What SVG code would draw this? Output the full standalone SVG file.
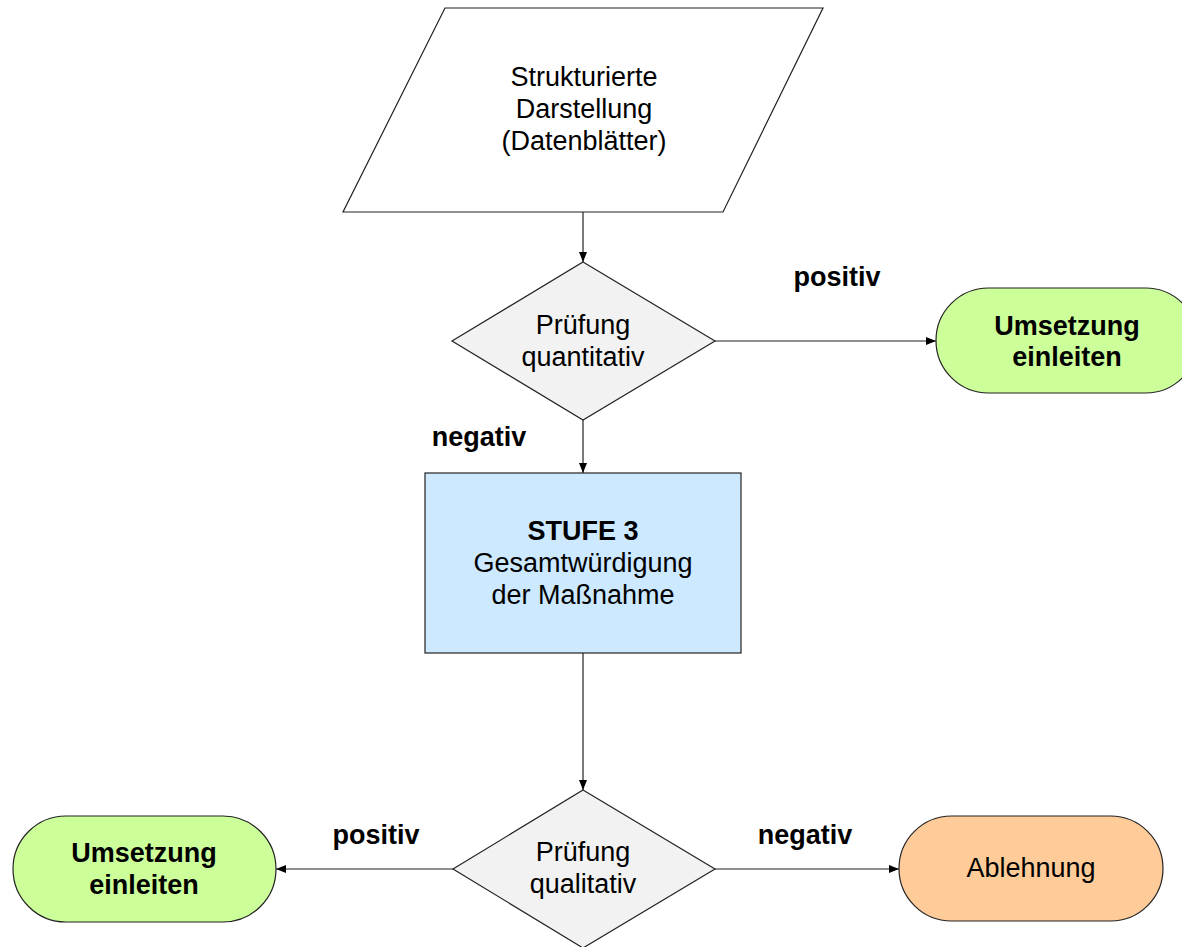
<svg xmlns="http://www.w3.org/2000/svg" width="1182" height="947" viewBox="0 0 1182 947">
<defs>
<style>
.shape{stroke:#222;stroke-width:1.2}
.t{font-family:"Liberation Sans",Arial,sans-serif;font-size:27px;fill:#000;text-anchor:middle}
.b{font-weight:bold}
.conn{stroke:#222;stroke-width:1.2;fill:none;marker-end:url(#ah)}
</style>
<marker id="ah" viewBox="0 0 10 10" refX="10" refY="5" markerWidth="10" markerHeight="10" markerUnits="userSpaceOnUse" orient="auto">
<path d="M0,1 L10,5 L0,9 Z" fill="#000"/>
</marker>
</defs>
<rect width="1182" height="947" fill="#fff"/>
<g id="connectors">
<line class="conn" x1="583" y1="212" x2="583" y2="262"/>
<line class="conn" x1="715" y1="341" x2="936" y2="341"/>
<line class="conn" x1="583" y1="420" x2="583" y2="473"/>
<line class="conn" x1="583" y1="653" x2="583" y2="790"/>
<line class="conn" x1="453" y1="869" x2="276" y2="869"/>
<line class="conn" x1="715" y1="869" x2="899" y2="869"/>
<text class="t b" x="837" y="286">positiv</text>
<text class="t b" x="479" y="446">negativ</text>
<text class="t b" x="376" y="844">positiv</text>
<text class="t b" x="805" y="844">negativ</text>
</g>
<g id="data">
<polygon class="shape" points="445,8 823,8 723,212 343,212" fill="#fff"/>
<text class="t" x="584" y="86">Strukturierte</text>
<text class="t" x="584" y="118">Darstellung</text>
<text class="t" x="584" y="150">(Datenblätter)</text>
</g>
<g id="check1">
<polygon class="shape" points="583,262 715,341 583,420 452,341" fill="#f2f2f2"/>
<text class="t" x="583" y="334">Prüfung</text>
<text class="t" x="583" y="366">quantitativ</text>
</g>
<g id="impl1">
<rect class="shape" x="936" y="288" width="262" height="105" rx="52.5" fill="#ccff99"/>
<text class="t b" x="1067" y="335">Umsetzung</text>
<text class="t b" x="1067" y="366">einleiten</text>
</g>
<g id="stufe3">
<rect class="shape" x="425" y="473" width="316" height="180" fill="#cce9ff"/>
<text class="t b" x="583" y="540">STUFE 3</text>
<text class="t" x="583" y="572">Gesamtwürdigung</text>
<text class="t" x="583" y="604">der Maßnahme</text>
</g>
<g id="check2">
<polygon class="shape" points="583,790 715,869 583,948 453,869" fill="#f2f2f2"/>
<text class="t" x="583" y="861">Prüfung</text>
<text class="t" x="583" y="893">qualitativ</text>
</g>
<g id="impl2">
<rect class="shape" x="13" y="816" width="263" height="106" rx="53" fill="#ccff99"/>
<text class="t b" x="144" y="862">Umsetzung</text>
<text class="t b" x="144" y="894">einleiten</text>
</g>
<g id="reject">
<rect class="shape" x="899" y="816" width="264" height="105" rx="52.5" fill="#ffcc99"/>
<text class="t" x="1031" y="877">Ablehnung</text>
</g>
</svg>
